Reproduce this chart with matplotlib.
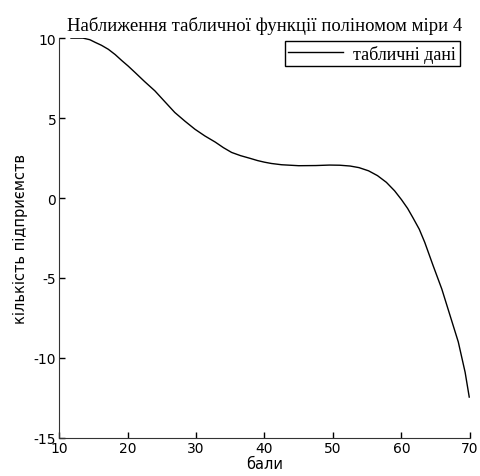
#!/usr/bin/env python3
import numpy as np
import matplotlib.pyplot as plt

plt.rcParams['axes.unicode_minus'] = False

# data
bali = [11.75, 13.5, 14.5, 15.3, 16.2, 17.2, 18.2, 19.15, 20.1, 21.1, 22.5,
        24.0, 25.5, 26.9, 28.4, 29.85, 31.3, 32.8, 34.0, 35.2, 36.5, 37.9,
        39.0, 40.0, 41.0, 42.5, 45.0, 47.5, 49.5, 51.0, 52.5, 53.8, 55.2,
        56.5, 57.8, 59.0, 60.0, 60.9, 61.7, 62.6, 63.4, 64.6, 65.9, 67.1,
        68.3, 69.3, 69.9]
kilkist = [10.0, 10.0, 9.9, 9.73, 9.55, 9.3, 8.97, 8.6, 8.25, 7.85, 7.28,
           6.7, 6.0, 5.35, 4.8, 4.3, 3.88, 3.5, 3.15, 2.85, 2.65, 2.48,
           2.34, 2.24, 2.16, 2.08, 2.02, 2.03, 2.06, 2.05, 2.0, 1.9, 1.7,
           1.4, 0.98, 0.45, -0.1, -0.65, -1.25, -1.95, -2.77, -4.2, -5.7,
           -7.35, -9.0, -10.9, -12.45]

xticks = np.arange(10, 71, 10)
yticks = np.arange(-15, 11, 5)

fig = plt.figure(figsize=(4.8, 4.77), dpi=100)
ax = fig.add_axes([0.123, 0.080, 0.856, 0.838])

ax.plot(bali, kilkist, color='black', lw=1.0, label='табличні дані')

ax.set_xlim(10, 70)
ax.set_ylim(-15, 10)
ax.set_xticks(xticks)
ax.set_yticks(yticks)
ax.tick_params(direction='in', length=4, width=1, labelsize=10, pad=2)
for lab in ax.get_xticklabels() + ax.get_yticklabels():
    lab.set_family('DejaVu Sans')

# matlab style: only left and bottom axis lines
ax.spines['top'].set_visible(False)
ax.spines['right'].set_visible(False)
ax.spines['left'].set_color('#333333')
ax.spines['bottom'].set_color('#333333')

ax.set_title('Наближення табличної функції поліномом міри 4',
             family='Liberation Serif', fontsize=13.5, pad=6)
ax.set_xlabel('бали', family='DejaVu Sans', fontsize=10.5, labelpad=1)
ax.set_ylabel('кількість підприємств', family='DejaVu Sans', fontsize=10.5,
              labelpad=4)

# legend
leg = ax.legend(loc='upper right', bbox_to_anchor=(0.958, 0.912),
                bbox_transform=fig.transFigure,
                prop={'family': 'Liberation Serif', 'size': 13},
                fancybox=False, framealpha=1, edgecolor='black',
                handlelength=3.0, borderpad=0.2, handletextpad=0.6,
                borderaxespad=0)
leg.get_frame().set_linewidth(1.0)

plt.savefig('out.png', dpi=100)
